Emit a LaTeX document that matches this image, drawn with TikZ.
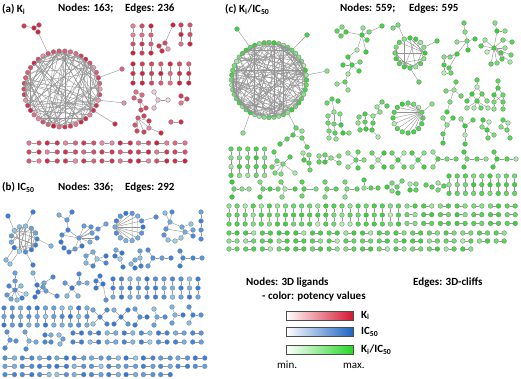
\documentclass[tikz,border=0pt]{standalone}
\usepackage{fontspec}
\setmainfont{Carlito}
\definecolor{rhi}{RGB}{214,22,50}
\definecolor{rlo}{RGB}{240,168,196}
\definecolor{rlhi}{RGB}{236,190,206}
\definecolor{rllo}{RGB}{252,248,250}
\definecolor{bhi}{RGB}{38,118,228}
\definecolor{blo}{RGB}{170,222,236}
\definecolor{ghi}{RGB}{40,215,40}
\definecolor{glo}{RGB}{195,240,195}
\tikzset{
 vx/.style={circle,minimum size=4.7pt,inner sep=0pt,draw=black!50,line width=0.35pt},
 ed/.style={draw=black!42,line width=0.42pt},
 lab/.style={font=\bfseries\fontsize{11}{13}\selectfont,inner sep=0pt,anchor=base west,text=black},
 barframe/.style={draw=black!70,line width=0.5pt}
}
\newcommand\V[3]{\pgfmathsetmacro\rr{int(100*sqrt(rnd))}\node[vx,fill=#3hi!\rr!#3lo] (#1) at (#2) {};}
\newcommand\E[2]{\draw[ed] (#1) -- (#2);}
\newcommand\Grp[4]{\foreach \gi/\gx/\gy in {#3}{\V{#1-\gi}{\gx,\gy}{#2}}\foreach \gi/\gj in {#4}{\E{#1-\gi}{#1-\gj}}}
\newcommand\Chain[7]{\foreach \ci in {1,...,#6}{\V{#1-\ci}{{#2+(\ci-1)*(#4)},{#3+(\ci-1)*(#5)}}{#7}}\foreach \ci in {2,...,#6}{\pgfmathtruncatemacro\cp{\ci-1}\E{#1-\cp}{#1-\ci}}}
\newcommand\Ring[6]{\foreach \ri in {1,...,#5}{\V{#1-\ri}{{#2+#4*cos((360/#5)*\ri)},{#3-#4*sin((360/#5)*\ri)}}{#6}}}
\newcommand\Chords[3]{\foreach \rk in {1,...,#3}{\pgfmathrandominteger{\ria}{1}{#2}\pgfmathrandominteger{\rib}{1}{#2}\ifnum\ria=\rib\else\E{#1-\ria}{#1-\rib}\fi}}
\begin{document}
\begin{tikzpicture}[x=1pt,y=-1pt]
\pgfmathsetseed{4242}
\fill[white] (0,0) rectangle (521,379);
\useasboundingbox (0,0) rectangle (521,379);
% ---------------- titles
\node[lab] (ta) at (2,12.5) {(a) K\textsubscript{i}};
\node[lab] (tan) at (58,12) {Nodes: 163;};
\node[lab] (tae) at (125,12) {Edges: 236};
\node[lab] (tb) at (2,190.5) {(b) IC\textsubscript{50}};
\node[lab] (tbn) at (58,190) {Nodes: 336;};
\node[lab] (tbe) at (125,190) {Edges: 292};
\node[lab] (tc) at (225,12.5) {(c) K\textsubscript{i}/IC\textsubscript{50}};
\node[lab] (tcn) at (340,12) {Nodes: 559;};
\node[lab] (tce) at (409,12) {Edges: 595};
% ---------------- panel (a)
\Ring{A}{62}{89}{38}{42}{r}
\Chords{A}{42}{115}
\Grp{at}{r}{1/24/26,2/34/28,3/39/25,4/38/32}{1/2,2/3,2/4}
\E{at-4}{A-13}
\V{as1}{122,69}{r}\E{as1}{A-2}
\V{as2}{124,103}{r}\E{as2}{A-40}
\V{as3}{115,124}{r}\E{as3}{A-38}
\foreach \k in {0,1,2}{\Chain{aq\k}{133+9*\k}{26}{0}{9}{4}{r}}
\Grp{ab}{r}{1/173/25,2/165/43,3/159/46,4/162/51,5/168/49}{1/2,2/3,3/4,2/5}
\foreach \k in {0,1}{\Chain{ac\k}{181+9*\k}{25}{0}{9.5}{3}{r}}
\foreach \k in {0,...,6}{\Chain{ad\k}{133+9.3*\k}{64}{0}{9.5}{3}{r}}
\Grp{ae}{r}{1/136/92,2/142/95,3/134/98,4/140/101,5/146/108,6/141/110}{1/2,1/3,3/4,2/4,4/5,4/6}
\Grp{af}{rl}{1/158/100,2/154/92,3/168/100,4/154/108}{1/2,1/3,1/4}
\Grp{ag}{r}{1/181/96,2/187/99,3/181/103}{1/2,2/3}
\Grp{ah}{r}{1/138/118,2/144/116,3/149/121,4/135/125,5/149/128,6/137/131,7/144/132,8/161/133}{1/2,1/3,1/4,1/6,1/7,1/5,3/5,5/8,7/5,4/6}
\Chain{ai}{171}{122}{10}{0}{2}{r}
\foreach \rw in {0,1,2}{\foreach \k in {0,...,8}{\Chain{aj\rw-\k}{29+18.25*\k}{143+9*\rw}{10}{0}{2}{r}}}
% ---------------- panel (b)
\Ring{B1}{24}{239}{13}{13}{b}
\Chords{B1}{13}{28}
\Grp{B1x}{b}{1/8/216,2/33/212,3/51/246,4/6/260,5/10/264,6/33/265}{4/5}
\E{B1x-1}{B1-5}\E{B1x-2}{B1-3}\E{B1x-3}{B1-13}\E{B1x-4}{B1-8}\E{B1x-5}{B1-9}\E{B1x-6}{B1-10}
\Grp{B2}{b}{1/59/215,2/72/212,3/67/220,4/68/230,5/62/235,6/61/242,7/64/248,8/69/252,9/75/249,10/79/238,11/84/226,12/91/227,13/98/229,14/92/233,15/97/238,16/90/242,17/106/224,18/82/246}{1/3,2/3,3/4,4/5,5/6,6/7,7/8,8/9,9/10,10/4,10/11,10/12,10/13,10/14,10/15,10/16,13/17,10/5,10/18,18/8,11/12}
\Ring{B3}{129}{227}{14}{14}{b}
\foreach \i in {1,2,3,4,5,9,10,11,12,13,14}{\E{B3-7}{B3-\i}}
\E{B3-2}{B3-12}\E{B3-3}{B3-11}
\V{B3s}{156,217}{b}\E{B3s}{B3-1}
\Grp{B4}{b}{1/165/213,2/172/212,3/170/222,4/166/229,5/182/227,6/191/224,7/193/230,8/193/236,9/164/235,10/168/240,11/175/241,12/181/238,13/185/232}{1/3,2/3,3/4,3/5,4/9,9/10,10/11,11/12,12/13,13/5,5/6,13/7,13/8,4/13}
\Chain{B5}{201}{212}{0}{9}{4}{b}
\Grp{B6}{b}{1/86/256,2/86/263,3/93/252,4/97/259,5/93/266,6/106/256,7/106/263}{1/3,3/4,4/5,5/2,2/1,4/6,4/7}
\Grp{B7}{b}{1/116/250,2/122/253,3/115/256,4/120/259,5/123/267}{1/2,1/3,3/4,2/4,4/5}
\Grp{B8}{b}{1/140/251,2/140/258,3/135/260,4/131/264,5/135/268,6/141/266}{1/2,2/3,3/4,4/5,5/6,6/2}
\Grp{B9}{b}{1/148/250,2/153/258,3/148/266,4/162/258,5/171/258}{1/2,2/3,2/4,4/5}
\Grp{B10}{b}{1/180/251,2/183/258,3/180/266,4/193/258,5/202/258}{1/2,2/3,2/4,4/5}
\Grp{B11}{b}{1/15/290,2/15/273,3/15/281,4/7/295,5/11/299,6/17/300,7/22/298,8/26/294,9/9/286,10/21/286}{2/3,3/1,1/4,1/5,1/6,1/7,1/8,1/9,1/10}
\Grp{B12}{b}{1/33/273,2/37/285,3/44/283,4/53/277,5/38/292,6/35/297,7/46/291,8/57/296,9/43/287}{1/2,2/3,3/4,2/5,5/6,3/7,7/8,5/7,9/3,9/5,2/7}
\Grp{B13}{b}{1/72/288,2/65/283,3/79/274,4/79/283,5/87/283,6/67/296,7/78/296}{1/2,3/4,4/1,4/5,1/6,1/7}
\Grp{B14}{b}{1/96/281,2/100/276,3/103/284,4/96/288,5/106/300}{1/2,1/3,1/4,3/4,3/5,2/3}
\foreach \k in {0,...,10}{\Chain{Bt\k}{113+8.5*\k}{279}{0}{9}{3}{b}}
\foreach \k in {0,...,10}{\Chain{Bu\k}{4+8.3*\k}{308}{0}{8.5}{3}{b}}
\Grp{BX1}{b}{1/100/317,2/93/310,3/107/310,4/93/324,5/107/324}{1/2,1/3,1/4,1/5}
\Grp{BX2}{b}{1/121/317,2/114/310,3/128/310,4/114/324,5/128/324}{1/2,1/3,1/4,1/5}
\Grp{BY1}{b}{1/140/317,2/135/309,3/135/325,4/147/317}{1/2,1/3,1/4}
\Grp{BY2}{b}{1/157/317,2/154/309,3/154/325,4/165/317}{1/2,1/3,1/4}
\Grp{BY3}{b}{1/175/315,2/172/307,3/172/323,4/183/315}{1/2,1/3,1/4}
\Grp{BY4}{b}{1/193/315,2/189/307,3/189/323,4/201/315}{1/2,1/3,1/4}
\Grp{BZ1}{b}{1/10/340,2/7/332,3/5/348,4/16/341}{1/2,1/3,1/4}
\Grp{BZ2}{b}{1/29/341,2/25/332,3/26/349,4/36/342}{1/2,1/3,1/4}
\Grp{BZ3}{b}{1/45/335,2/51/335,3/45/342,4/51/342}{1/2,3/4}
\Grp{BZ4}{b}{1/59/335,2/63/339,3/60/344}{1/2,2/3}
\foreach \rw in {0,1}{\foreach \k in {0,...,7}{\Chain{Bp\rw-\k}{73+17.1*\k}{333+9*\rw}{8.5}{0}{2}{b}}}
\foreach \rw/\n in {0/11,1/11,2/9}{\foreach \k in {0,...,\n}{\Chain{Bq\rw-\k}{5+17.3*\k}{358+8.3*\rw}{9.5}{0}{2}{b}}}
% ---------------- panel (c)
\Ring{C}{269}{80}{37.5}{48}{g}
\Chords{C}{48}{165}
\V{Cs1}{237,29}{g}\E{Cs1}{C-16}
\V{Cs2}{307,35}{g}\E{Cs2}{C-7}
\V{Cs3}{327,71}{g}\E{Cs3}{C-1}
\V{Cs4}{243,133}{g}\E{Cs4}{C-32}
\Grp{Ct}{g}{1/296/128,2/302/131,3/293/135,4/302/138,5/287/139,6/280/144,7/307/147}{1/2,1/3,3/4,3/5,5/6,4/7}
\E{Ct-1}{C-40}
\Grp{C2}{g}{1/337/31,2/342/27,3/341/36,4/346/32,5/362/35,6/363/28,7/369/32,8/367/40,9/382/26,10/357/50,11/366/52,12/348/57,13/352/65,14/343/65,15/360/62,16/359/71,17/348/74,18/345/82,19/337/84,20/348/90}{1/2,1/3,2/4,3/4,4/5,5/6,5/7,5/8,7/9,5/10,5/11,10/12,12/13,13/14,13/15,13/16,13/17,17/18,18/19,18/20}
\Ring{C3}{410}{53}{15}{16}{g}
\Chords{C3}{16}{22}
\Grp{C3x}{g}{1/393/28,2/398/25,3/437/41,4/419/82}{1/2}
\E{C3x-2}{C3-5}\E{C3x-3}{C3-1}\E{C3x-4}{C3-12}
\Grp{C4}{g}{1/467/41,2/464/23,3/465/32,4/475/39,5/468/50,6/457/42,7/457/54,8/444/57,9/450/57,10/444/65,11/449/68,12/444/73,13/451/73}{2/3,3/1,1/4,1/5,1/6,1/7,7/8,7/9,7/11,8/10,10/12,11/13,12/13}
\Grp{C5}{g}{1/494/48,2/495/23,3/497/31,4/505/31,5/485/40,6/481/46,7/487/52,8/503/40,9/512/42,10/505/48,11/511/55,12/510/62,13/502/59,14/497/63,15/491/64,16/501/53}{2/3,3/1,3/4,1/5,1/6,1/7,1/8,8/9,1/10,1/11,1/12,1/13,1/14,1/15,1/16,5/6}
\Grp{C6}{g}{1/456/82,2/454/90,3/446/91,4/461/96,5/450/102,6/447/112}{1/2,2/3,2/4,2/5,5/6}
\Grp{C7}{g}{1/477/80,2/477/87,3/472/94,4/482/94,5/467/101,6/477/101,7/487/101,8/467/108,9/474/108,10/481/108,11/488/108}{1/2,2/3,2/4,3/5,4/7,3/6,4/6,6/8,6/9,6/10,6/11}
\Grp{C8}{g}{1/498/81,2/498/88,3/494/95,4/503/95,5/494/102,6/503/102,7/494/109,8/503/109}{1/2,2/3,2/4,3/5,4/6,5/7,6/8,3/6,4/5}
\Grp{C9}{g}{1/327/103,2/332/99,3/338/101,4/328/116,5/334/112,6/340/114,7/328/123,8/334/124,9/341/125,10/329/131,11/335/133,12/343/133,13/349/133,14/329/138,15/336/139}{1/2,2/3,2/5,4/5,5/6,4/7,5/8,6/9,7/8,8/9,7/10,8/11,9/12,12/13,10/14,11/15,10/11}
\Grp{C10}{g}{1/359/117,2/365/114,3/373/116,4/358/123,5/365/122,6/373/123,7/360/130,8/366/129,9/372/130,10/377/107,11/382/102,12/387/106,13/380/112,14/378/137}{1/2,2/3,1/4,3/6,4/7,7/8,8/9,9/6,3/13,13/10,10/11,11/12,9/14,5/2,5/8}
\Ring{C11}{408}{118}{15}{16}{g}
\foreach \i in {3,...,15}{\E{C11-1}{C11-\i}}
\V{C11s}{432,104}{g}\E{C11s}{C11-1}
\Grp{Cy1}{g}{1/447/125,2/443/118,3/453/118,4/443/134,5/443/143}{1/2,1/3,1/4,4/5}
\Grp{Cy2}{g}{1/465/126,2/461/119,3/473/120,4/465/135,5/465/144}{1/2,1/3,1/4,4/5}
\Grp{Cy3}{g}{1/483/120,2/489/122,3/482/127,4/487/130,5/488/138,6/494/135}{1/2,1/3,2/4,3/4,4/5,4/6}
\Grp{Cy4}{g}{1/503/120,2/508/123,3/501/127,4/507/130,5/510/138}{1/2,1/3,2/4,3/4,4/5}
\foreach \k in {0,...,4}{\Chain{Cg\k}{231+8.4*\k}{149}{0}{8.8}{4}{g}}
\Grp{C14}{g}{1/283/164,2/274/152,3/277/161,4/290/157,5/272/167,6/275/173,7/281/174,8/295/173}{2/3,3/1,1/4,1/5,1/6,1/7,1/8,5/3}
\Grp{C15}{g}{1/303/153,2/309/155,3/304/160,4/309/163,5/310/170}{1/2,1/3,2/4,3/4,4/5}
\Grp{C16}{g}{1/319/156,2/325/155,3/325/162,4/319/162,5/331/158,6/339/156,7/339/163}{1/2,2/3,3/4,4/1,2/5,3/5,5/6,5/7}
\Grp{C17}{g}{1/356/160,2/348/153,3/358/152,4/364/160,5/348/167,6/358/168}{1/2,1/3,1/4,1/5,1/6}
\foreach \cx [count=\c] in {378,398,418}{\Grp{Cx\c}{g}{1/\cx/160,2/\cx-6/153,3/\cx+6/153,4/\cx-6/167,5/\cx+6/167}{1/2,1/3,1/4,1/5}}
\Grp{Cw1}{g}{1/438/159,2/433/152,3/433/167,4/447/159,5/456/159}{1/2,1/3,1/4,4/5}
\Grp{Cw2}{g}{1/467/159,2/464/152,3/464/167,4/477/159,5/486/159}{1/2,1/3,1/4,4/5}
\Grp{Cw3}{g}{1/497/159,2/494/152,3/493/167,4/507/159,5/516/159}{1/2,1/3,1/4,4/5}
\foreach \k in {0,...,8}{\Chain{Cv\k}{449+8.2*\k}{176}{0}{8.7}{3}{g}}
\Grp{Cz1}{g}{1/234/189,2/232/182,3/232/197,4/242/189,5/249/189}{1/2,1/3,1/4,4/5}
\Grp{Cz2}{g}{1/263/189,2/260/182,3/260/197,4/270/189,5/278/189}{1/2,1/3,1/4,4/5}
\Grp{Cz3}{g}{1/285/189,2/281/182,3/282/197,4/295/189}{1/2,1/3,1/4}
\Grp{Cz4}{g}{1/304/189,2/302/182,3/302/196,4/316/189}{1/2,1/3,1/4}
\Grp{Cz5}{g}{1/327/189,2/325/182,3/325/197,4/336/189}{1/2,1/3,1/4}
\Grp{Cz6}{g}{1/347/189,2/345/182,3/345/197,4/357/189}{1/2,1/3,1/4}
\Grp{Cz7}{g}{1/364/180,2/364/188,3/371/188,4/378/188}{1/2,2/3,3/4}
\Grp{Cz8}{g}{1/387/187,2/392/183,3/392/191,4/398/193,5/402/181,6/397/187}{1/2,1/3,3/4,2/6,6/5,6/4}
\Grp{Cz9}{g}{1/410/184,2/416/184,3/410/190,4/416/190}{1/2,3/4}
\Grp{Cz10}{g}{1/426/185,2/432/187}{1/2}
\Grp{Cz11}{g}{1/438/183,2/438/190,3/444/186}{1/3,2/3}
\foreach \k in {0,...,21}{\Chain{CG\k}{229+8.07*\k}{206}{0}{9}{3}{g}}
\foreach \rw in {0,1,2}{\foreach \k in {0,...,6}{\Chain{CP\rw-\k}{407+16.7*\k}{206+8.7*\rw}{8}{0}{2}{g}}}
\foreach \rw/\n in {0/16,1/16,2/14}{\foreach \k in {0,...,\n}{\Chain{CQ\rw-\k}{229+16.7*\k}{233+8*\rw}{8}{0}{2}{g}}}
% ---------------- legend
\node[lab] (ln) at (246,285) {Nodes: 3D ligands};
\node[lab] (le) at (413,285) {Edges: 3D-cliffs};
\node[lab] (lc) at (262,299.5) {- color: potency values};
\shade[left color=white,right color=rhi] (286,311) rectangle (353,320);
\draw[barframe] (286,311) rectangle (353,320);
\shade[left color=white,right color=bhi!85!black] (286,327) rectangle (353,336);
\draw[barframe] (286,327) rectangle (353,336);
\shade[left color=white,right color=ghi] (286,345) rectangle (353,354);
\draw[barframe] (286,345) rectangle (353,354);
\node[lab] (lk) at (361,318) {K\textsubscript{i}};
\node[lab] (li) at (361,334.5) {IC\textsubscript{50}};
\node[lab] (lki) at (361,352.5) {K\textsubscript{i}/IC\textsubscript{50}};
\node[lab,font=\fontsize{11}{13}\selectfont] (lmin) at (277,368) {min.};
\node[lab,font=\fontsize{11}{13}\selectfont] (lmax) at (343,368) {max.};
\end{tikzpicture}
\end{document}
